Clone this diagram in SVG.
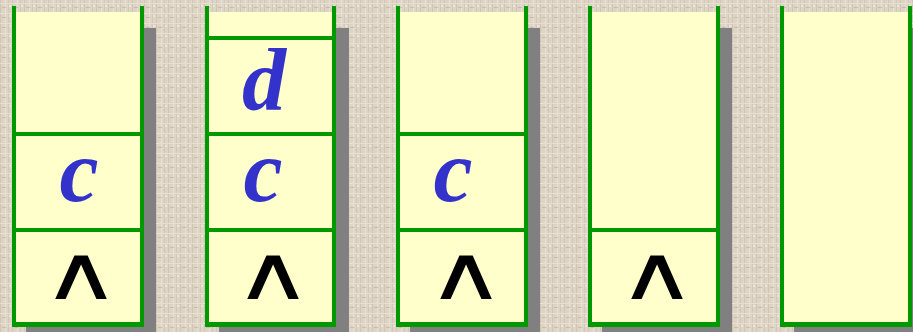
<svg xmlns="http://www.w3.org/2000/svg" width="913" height="332" viewBox="0 0 913 332">
<defs>
<pattern id="tex" width="12" height="10" patternUnits="userSpaceOnUse">
<rect width="12" height="10" fill="#ddd4c5"/>
<rect x="0" y="0" width="1" height="10" fill="#cfc5b3"/>
<rect x="5" y="0" width="1" height="10" fill="#e8e2d6"/>
<rect x="8" y="0" width="1" height="10" fill="#d2c8b6"/>
<rect x="0" y="3" width="12" height="1" fill="#e6dfd2"/>
<rect x="2" y="7" width="4" height="1" fill="#c9bea9"/>
<rect x="9" y="5" width="2" height="2" fill="#ebe5da"/>
</pattern>
<style>
.sh{fill:#808080}
.bg{fill:#ffffcc}
.ln{fill:#009900}
.lt{font-family:"Liberation Serif","Times New Roman",serif;font-weight:bold;font-style:italic;font-size:88px;fill:#3333cc;text-anchor:middle}
.nil{font-family:"DejaVu Sans",sans-serif;font-size:75px;fill:#000;text-anchor:middle}
</style>
</defs>
<rect width="913" height="332" fill="url(#tex)"/>
<g id="stack1" transform="translate(12,0)">
<rect class="sh" x="14" y="28" width="130" height="320"/>
<rect class="bg" x="0" y="12" width="132" height="315"/>
<rect class="ln" x="0" y="6" width="4" height="321"/>
<rect class="ln" x="128" y="6" width="4" height="321"/>
<rect class="ln" x="0" y="132" width="132" height="4"/>
<rect class="ln" x="0" y="228" width="132" height="4"/>
<rect class="ln" x="0" y="322" width="132" height="5"/>
<text class="lt" x="67" y="201">c</text>
<text class="nil" transform="translate(69,299) scale(1.45,1)">∧</text>
</g>
<g id="stack2" transform="translate(205,0)">
<rect class="sh" x="14" y="28" width="130" height="320"/>
<rect class="bg" x="0" y="12" width="131" height="315"/>
<rect class="ln" x="0" y="6" width="4" height="321"/>
<rect class="ln" x="127" y="6" width="4" height="321"/>
<rect class="ln" x="0" y="36" width="131" height="4"/>
<rect class="ln" x="0" y="132" width="131" height="4"/>
<rect class="ln" x="0" y="228" width="131" height="4"/>
<rect class="ln" x="0" y="322" width="131" height="5"/>
<text class="lt" x="59" y="110">d</text>
<text class="lt" x="58" y="201">c</text>
<text class="nil" transform="translate(68,299) scale(1.45,1)">∧</text>
</g>
<g id="stack3" transform="translate(396,0)">
<rect class="sh" x="14" y="28" width="130" height="320"/>
<rect class="bg" x="0" y="12" width="132" height="315"/>
<rect class="ln" x="0" y="6" width="4" height="321"/>
<rect class="ln" x="128" y="6" width="4" height="321"/>
<rect class="ln" x="0" y="132" width="132" height="4"/>
<rect class="ln" x="0" y="228" width="132" height="4"/>
<rect class="ln" x="0" y="322" width="132" height="5"/>
<text class="lt" x="57" y="201">c</text>
<text class="nil" transform="translate(70,299) scale(1.45,1)">∧</text>
</g>
<g id="stack4" transform="translate(588,0)">
<rect class="sh" x="14" y="28" width="130" height="320"/>
<rect class="bg" x="0" y="12" width="132" height="315"/>
<rect class="ln" x="0" y="6" width="4" height="321"/>
<rect class="ln" x="128" y="6" width="4" height="321"/>
<rect class="ln" x="0" y="228" width="132" height="4"/>
<rect class="ln" x="0" y="322" width="132" height="5"/>
<text class="nil" transform="translate(69,299) scale(1.45,1)">∧</text>
</g>
<g id="stack5" transform="translate(780,0)">
<rect class="sh" x="14" y="28" width="130" height="320"/>
<rect class="bg" x="0" y="12" width="132" height="315"/>
<rect class="ln" x="0" y="6" width="4" height="321"/>
<rect class="ln" x="128" y="6" width="4" height="321"/>
<rect class="ln" x="0" y="322" width="132" height="5"/>
</g>
</svg>
